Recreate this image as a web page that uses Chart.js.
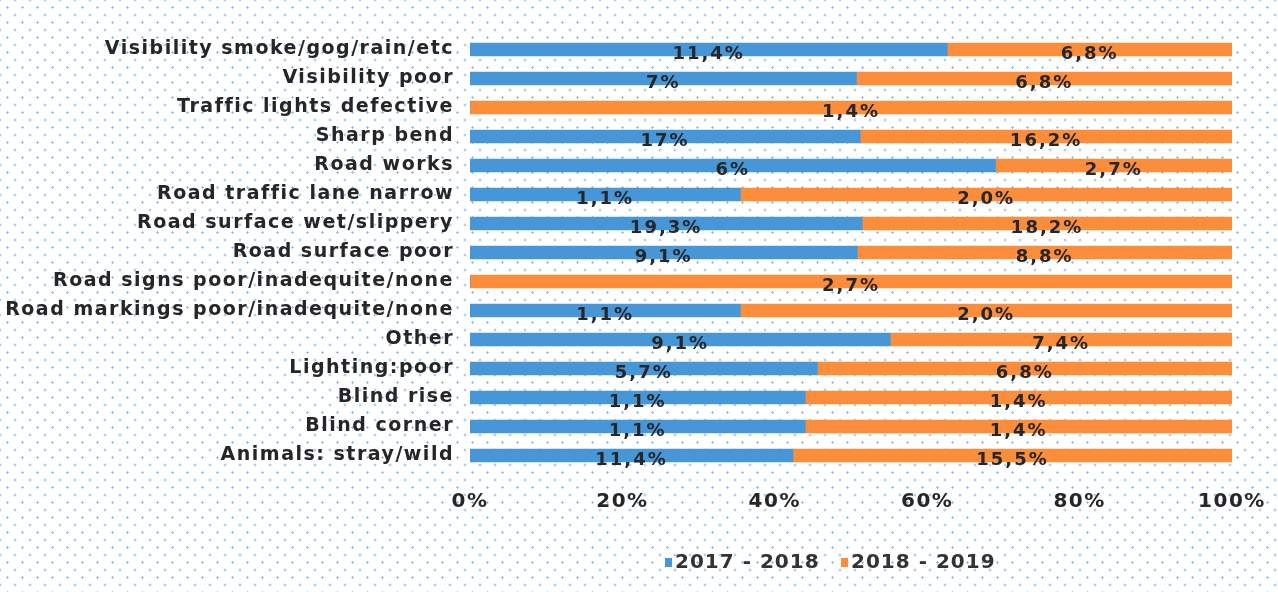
<!DOCTYPE html>
<html>
<head>
<meta charset="utf-8">
<script src="https://cdn.jsdelivr.net/npm/chart.js@4.4.0/dist/chart.umd.min.js"></script>
<style>
  html, body { margin:0; padding:0; }
  body {
    width:1278px; height:592px; overflow:hidden;
    background-color:#ffffff;
    background-image:
      radial-gradient(circle, rgba(80,150,220,0.7) 0.9px, transparent 1.3px),
      radial-gradient(circle, rgba(80,150,220,0.7) 0.9px, transparent 1.3px);
    background-size: 15px 15px, 15px 15px;
    background-position: 0 0, 7.5px 7.5px;
  }
  #wrap { position:relative; width:1278px; height:592px; }
  canvas { display:block; }
</style>
</head>
<body>
<div id="wrap"><canvas id="c" width="1278" height="592"></canvas></div>
<script>
const categories = [
  'Visibility smoke/gog/rain/etc',
  'Visibility poor',
  'Traffic lights defective',
  'Sharp bend',
  'Road works',
  'Road traffic lane narrow',
  'Road surface wet/slippery',
  'Road surface poor',
  'Road signs poor/inadequite/none',
  'Road markings poor/inadequite/none',
  'Other',
  'Lighting:poor',
  'Blind rise',
  'Blind corner',
  'Animals: stray/wild'
];
const seriesNames = ['2017 - 2018', '2018 - 2019'];
const values2017 = [11.4, 7, 0, 17, 6, 1.1, 19.3, 9.1, 0, 1.1, 9.1, 5.7, 1.1, 1.1, 11.4];
const values2018 = [6.8, 6.8, 1.4, 16.2, 2.7, 2.0, 18.2, 8.8, 2.7, 2.0, 7.4, 6.8, 1.4, 1.4, 15.5];
const labels2017 = ['11,4%','7%','','17%','6%','1,1%','19,3%','9,1%','','1,1%','9,1%','5,7%','1,1%','1,1%','11,4%'];
const labels2018 = ['6,8%','6,8%','1,4%','16,2%','2,7%','2,0%','18,2%','8,8%','2,7%','2,0%','7,4%','6,8%','1,4%','1,4%','15,5%'];
const xTicks = [0, 20, 40, 60, 80, 100];

const BLUE = '#4797d8';
const ORANGE = '#fb8d3b';
const TEXT = '#262626';
const FONT = '"DejaVu Sans", Verdana, sans-serif';

const totals = values2017.map((v, i) => v + values2018[i]);
const share2017 = values2017.map((v, i) => v / totals[i] * 100);
const share2018 = values2018.map((v, i) => v / totals[i] * 100);

const spacing = {
  id: 'spacing',
  beforeUpdate(chart) { chart.ctx.letterSpacing = '1.5px'; },
  beforeDraw(chart) { chart.ctx.letterSpacing = '1.5px'; }
};

const valueLabels = {
  id: 'valueLabels',
  afterDatasetsDraw(chart) {
    const ctx = chart.ctx;
    const texts = [labels2017, labels2018];
    ctx.save();
    ctx.letterSpacing = '2px';
    ctx.font = 'bold 18px ' + FONT;
    ctx.fillStyle = TEXT;
    ctx.textAlign = 'center';
    ctx.textBaseline = 'middle';
    chart.data.datasets.forEach((ds, di) => {
      const meta = chart.getDatasetMeta(di);
      meta.data.forEach((bar, i) => {
        const t = texts[di][i];
        if (!t) return;
        const p = bar.getProps(['x', 'y', 'base'], true);
        const cx = (p.x + p.base) / 2;
        ctx.fillText(t, cx, p.y + 5);
      });
    });
    ctx.restore();
  }
};

const customLegend = {
  id: 'customLegend',
  afterDraw(chart) {
    const ctx = chart.ctx;
    const y = 563;
    const xs = [665, 841];
    chart.data.datasets.forEach((ds, di) => {
      const x = xs[di];
      ctx.save();
      ctx.letterSpacing = '1px';
      ctx.fillStyle = ds.backgroundColor;
      ctx.fillRect(x, y - 5, 7, 9);
      ctx.font = 'bold 20px ' + FONT;
      ctx.textBaseline = 'middle';
      ctx.textAlign = 'left';
      ctx.fillStyle = '#333333';
      ctx.fillText(ds.label, x + 10, y);
      ctx.restore();
    });
  }
};

new Chart(document.getElementById('c'), {
  type: 'bar',
  data: {
    labels: categories,
    datasets: [
      { label: seriesNames[0], data: share2017, backgroundColor: BLUE, barThickness: 13 },
      { label: seriesNames[1], data: share2018, backgroundColor: ORANGE, barThickness: 13 }
    ]
  },
  options: {
    indexAxis: 'y',
    responsive: false,
    animation: false,
    layout: { padding: { top: 35, right: 46, bottom: 72, left: 0 } },
    plugins: {
      legend: { display: false },
      tooltip: { enabled: false }
    },
    scales: {
      x: {
        stacked: true,
        min: 0, max: 100,
        afterBuildTicks(scale) { scale.ticks = xTicks.map(v => ({ value: v })); },
        grid: { display: false },
        border: { display: false },
        ticks: {
          padding: 12,
          color: TEXT,
          font: { family: FONT, size: 20, weight: 'bold' },
          callback: v => v + '%'
        },
        afterFit(scale) { scale.height = 50; scale.paddingLeft = 0; scale.paddingRight = 0; }
      },
      y: {
        stacked: true,
        grid: { display: false },
        border: { display: false },
        ticks: {
          padding: 8,
          color: TEXT,
          font: { family: FONT, size: 19, weight: 'bold' },
          autoSkip: false
        },
        afterFit(scale) { scale.width = 470; }
      }
    }
  },
  plugins: [spacing, valueLabels, customLegend]
});
</script>
</body>
</html>
